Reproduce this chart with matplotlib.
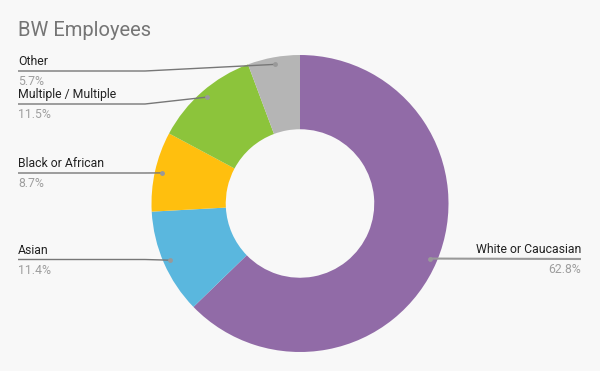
import numpy as np
import matplotlib.pyplot as plt

labels = ["White or Caucasian", "Asian", "Black or African", "Multiple / Multiple", "Other"]
values = [62.8, 11.4, 8.7, 11.5, 5.7]
colors = ["#916ba7", "#5ab7de", "#ffbf0e", "#8cc43b", "#b5b5b5"]

# label line heights (pixels from top) and side
line_y = [259, 259.5, 173, 104, 71]
side = ["right", "left", "left", "left", "left"]

W, H = 600, 371
fig = plt.figure(figsize=(6, 3.71), dpi=100, facecolor="#f8f8f8")
ax = fig.add_axes([0, 0, 1, 1])
ax.set_facecolor("#f8f8f8")

cx, cy, r = 300, H - 203.5, 148.5
wedges, _ = ax.pie(values, colors=colors, startangle=90, counterclock=False,
                   center=(cx, cy), radius=r, frame=True,
                   wedgeprops=dict(width=r * 0.5, linewidth=0))
ax.set_xlim(0, W)
ax.set_ylim(0, H)
ax.set_aspect("equal")
ax.axis("off")

fig.text(18 / W, 1 - 31 / H, "BW Employees", fontsize=14.5, color="#757575",
         family="Roboto", va="center", ha="left")

total = sum(values)
start = 0.0
for lab, val, ly, sd in zip(labels, values, line_y, side):
    mid = (start + val / 2) / total * 2 * np.pi
    start += val
    dx = cx + 0.952 * r * np.sin(mid)
    dy = cy + 0.952 * r * np.cos(mid)
    ly = H - ly
    if sd == "left":
        bend = min(dx, 145)
        ax.plot([18, bend, dx], [ly, ly, dy], color="#777777", lw=1, solid_capstyle="butt")
        x_t, ha = 18, "left"
    else:
        ax.plot([dx, 581], [dy, ly], color="#999999", lw=1.5, solid_capstyle="butt")
        x_t, ha = 581, "right"
    ax.plot([dx], [dy], "o", color="#999999", ms=3.5, mec="none")
    ax.text(x_t, ly + 3, lab, fontsize=8.8, color="#222222", family="Roboto",
            ha=ha, va="bottom")
    ax.text(x_t, ly - 4, f"{val}%", fontsize=8.8, color="#9e9e9e", family="Roboto",
            ha=ha, va="top")

fig.savefig("out.png", dpi=100, facecolor=fig.get_facecolor())
